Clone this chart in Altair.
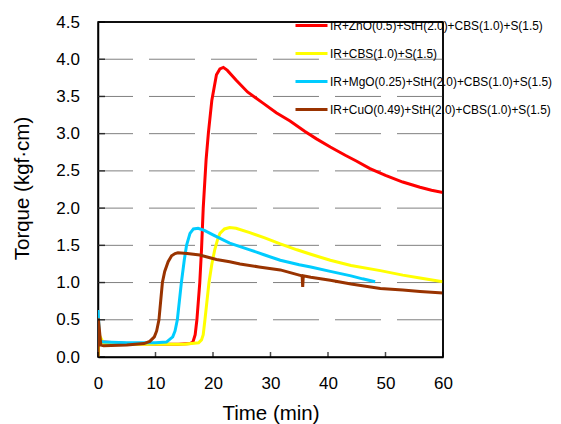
import altair as alt
import pandas as pd

FONT = "Arial"

series_names = [
    "IR+ZnO(0.5)+StH(2.0)+CBS(1.0)+S(1.5)",
    "IR+CBS(1.0)+S(1.5)",
    "IR+MgO(0.25)+StH(2.0)+CBS(1.0)+S(1.5)",
    "IR+CuO(0.49)+StH(2.0)+CBS(1.0)+S(1.5)",
]
series_colors = ["#FF0000", "#FFFF00", "#00CCFF", "#993300"]

# ZnO series (red)
red_t = [0, 0.3, 1, 5, 10, 14, 16, 16.5, 16.9, 17.2, 17.7, 18.0, 18.3, 18.8, 19.2, 19.8,
         20.6, 21.2, 21.8, 22.5, 24, 26, 28.7, 31, 33.4, 36, 38, 40.4, 43, 45, 47.3,
         50, 53, 56, 58, 60]
red_v = [0.45, 0.22, 0.2, 0.18, 0.17, 0.17, 0.18, 0.2, 0.3, 0.5, 1.0, 1.44, 2.0, 2.65, 3.01, 3.45,
         3.79, 3.87, 3.89, 3.85, 3.72, 3.56, 3.41, 3.28, 3.17, 3.03, 2.93, 2.82, 2.71, 2.63, 2.53,
         2.44, 2.35, 2.28, 2.24, 2.21]

# CBS only series (yellow)
yel_t = [0, 0.2, 1, 5, 10, 15, 17.5, 18.0, 18.3, 18.6, 19.3, 19.8, 20.3, 20.8, 21.2, 22,
         22.9, 24, 26.4, 29, 31.7, 34.6, 37, 40.4, 44, 49.1, 53, 56, 60]
yel_v = [0.0, 0.3, 0.18, 0.17, 0.17, 0.17, 0.19, 0.23, 0.3, 0.5, 1.0, 1.25, 1.44, 1.58, 1.66, 1.72,
         1.74, 1.73, 1.67, 1.6, 1.52, 1.44, 1.38, 1.30, 1.23, 1.16, 1.1, 1.06, 1.01]

# MgO series (cyan)
cya_t = [0, 0.3, 1, 5, 10, 11.9, 13.0, 13.4, 13.8, 14.5, 15.0, 15.4, 16.0, 16.6, 17.4, 18.5,
         20, 22.9, 26.4, 29, 31.7, 35, 37, 40.4, 44, 46, 48.2]
cya_v = [0.63, 0.22, 0.2, 0.19, 0.19, 0.2, 0.27, 0.35, 0.5, 1.0, 1.3, 1.5, 1.66, 1.72, 1.73, 1.70,
         1.64, 1.53, 1.44, 1.37, 1.30, 1.24, 1.21, 1.15, 1.09, 1.05, 1.01]

# CuO series (brown)
bro_t = [0, 0.05, 0.5, 1, 5, 8, 9, 9.8, 10.2, 10.6, 11.2, 11.6, 12.2, 12.8, 13.4, 13.9, 15.5,
         17.7, 20.6, 22.9, 24.7, 28, 31.7, 35.0, 35.5, 35.6, 35.7, 37, 40.4, 44, 49.1, 53, 56, 60]
bro_v = [0.0, 0.52, 0.16, 0.15, 0.16, 0.18, 0.21, 0.27, 0.35, 0.5, 1.0, 1.15, 1.28, 1.36, 1.39, 1.40, 1.39,
         1.37, 1.31, 1.28, 1.25, 1.21, 1.17, 1.10, 1.09, 0.94, 1.09, 1.07, 1.03, 0.98, 0.92, 0.9, 0.88, 0.86]

x_ticks = [0, 10, 20, 30, 40, 50, 60]
y_ticks = [0.0, 0.5, 1.0, 1.5, 2.0, 2.5, 3.0, 3.5, 4.0, 4.5]
grid_vals = [0.5, 1.0, 1.5, 2.0, 2.5, 3.0, 3.5, 4.0]
x_max = [60]
y_max = [4.5]

rows = []
for name, ts, vs in zip(series_names, [red_t, yel_t, cya_t, bro_t], [red_v, yel_v, cya_v, bro_v]):
    for i, (t, v) in enumerate(zip(ts, vs)):
        rows.append({"series": name, "t": t, "v": v, "i": i})
df = pd.DataFrame(rows)

xscale = alt.Scale(domain=[0, 60], nice=False, zero=False)
yscale = alt.Scale(domain=[0, 4.5], nice=False, zero=False)

x_axis = alt.Axis(values=x_ticks, title="Time (min)", grid=False, ticks=False, tickSize=0,
                  domain=True, domainColor="#000000", domainWidth=1.5,
                  labelPadding=18.5, labelFontSize=17, labelFont=FONT,
                  labelFontWeight="normal", labelColor="#000000", labelFlush=False,
                  labelOverlap=False, titleFont=FONT, titleFontSize=20.5, titleFontWeight="normal",
                  titleColor="#000000", titleY=62, titleBaseline="alphabetic")
y_axis = alt.Axis(values=y_ticks, format=".1f", title="Torque (kgf·cm)", grid=False, ticks=False,
                  tickSize=0, domain=True, domainColor="#000000", domainWidth=1.5,
                  labelPadding=18.5, labelFontSize=17, labelFont=FONT,
                  labelFontWeight="normal", labelColor="#000000", labelFlush=False,
                  labelOverlap=False, titleFont=FONT, titleFontSize=20.5, titleFontWeight="normal",
                  titleColor="#000000", titleX=-76, titleY=166, titleAngle=270,
                  titleBaseline="middle", titleAlign="center")

grid = alt.Chart(pd.DataFrame({"v": grid_vals})).mark_rule(
    color="#808080", strokeWidth=1, strokeDash=[46, 16]
).encode(y=alt.Y("v:Q", scale=yscale, axis=None))

color = alt.Color(
    "series:N",
    scale=alt.Scale(domain=series_names, range=series_colors),
    legend=alt.Legend(orient="none", legendX=196, legendY=-14, title=None, symbolType="stroke",
                      symbolSize=1024, symbolStrokeWidth=3, labelFontSize=11.9, labelFont=FONT,
                      labelColor="#000000", labelOffset=1, padding=0, rowPadding=4,
                      labelLimit=400),
)

lines = []
for k, name in enumerate(series_names):
    lines.append(
        alt.Chart(df).transform_filter(alt.datum.series == name).mark_line(
            strokeWidth=3, clip=True
        ).encode(
            x=alt.X("t:Q", scale=xscale, axis=x_axis if k == 0 else None),
            y=alt.Y("v:Q", scale=yscale, axis=y_axis if k == 0 else None),
            color=color,
            order=alt.Order("i:Q"),
        )
    )

ytick = alt.Chart(pd.DataFrame({"v": y_ticks})).mark_tick(
    orient="horizontal", size=7, thickness=1.5, color="#000000"
).encode(y=alt.Y("v:Q", scale=yscale, axis=None),
         x=alt.X(datum=0, scale=xscale, axis=None), xOffset=alt.value(3.5))

xtick = alt.Chart(pd.DataFrame({"t": x_ticks})).mark_tick(
    orient="vertical", size=5, thickness=1.5, color="#000000"
).encode(x=alt.X("t:Q", scale=xscale, axis=None),
         y=alt.Y(datum=0, scale=yscale, axis=None), yOffset=alt.value(-2.5))

frame_top = alt.Chart(pd.DataFrame({"v": y_max})).mark_rule(
    color="#000000", strokeWidth=1.5
).encode(y=alt.Y("v:Q", scale=yscale, axis=None))

frame_right = alt.Chart(pd.DataFrame({"t": x_max})).mark_rule(
    color="#000000", strokeWidth=1.5
).encode(x=alt.X("t:Q", scale=xscale, axis=None))

chart = alt.layer(grid, *lines, ytick, xtick, frame_top, frame_right).resolve_axis(
    x="independent", y="independent"
).properties(
    width=345, height=335,
    background="white",
    autosize=alt.AutoSizeParams(type="none"),
    padding={"left": 90, "top": 14, "right": 110, "bottom": 67},
).configure_view(stroke="#000000", strokeWidth=1.5)

chart.save("out.html", embed_options={"renderer": "svg", "actions": False})
